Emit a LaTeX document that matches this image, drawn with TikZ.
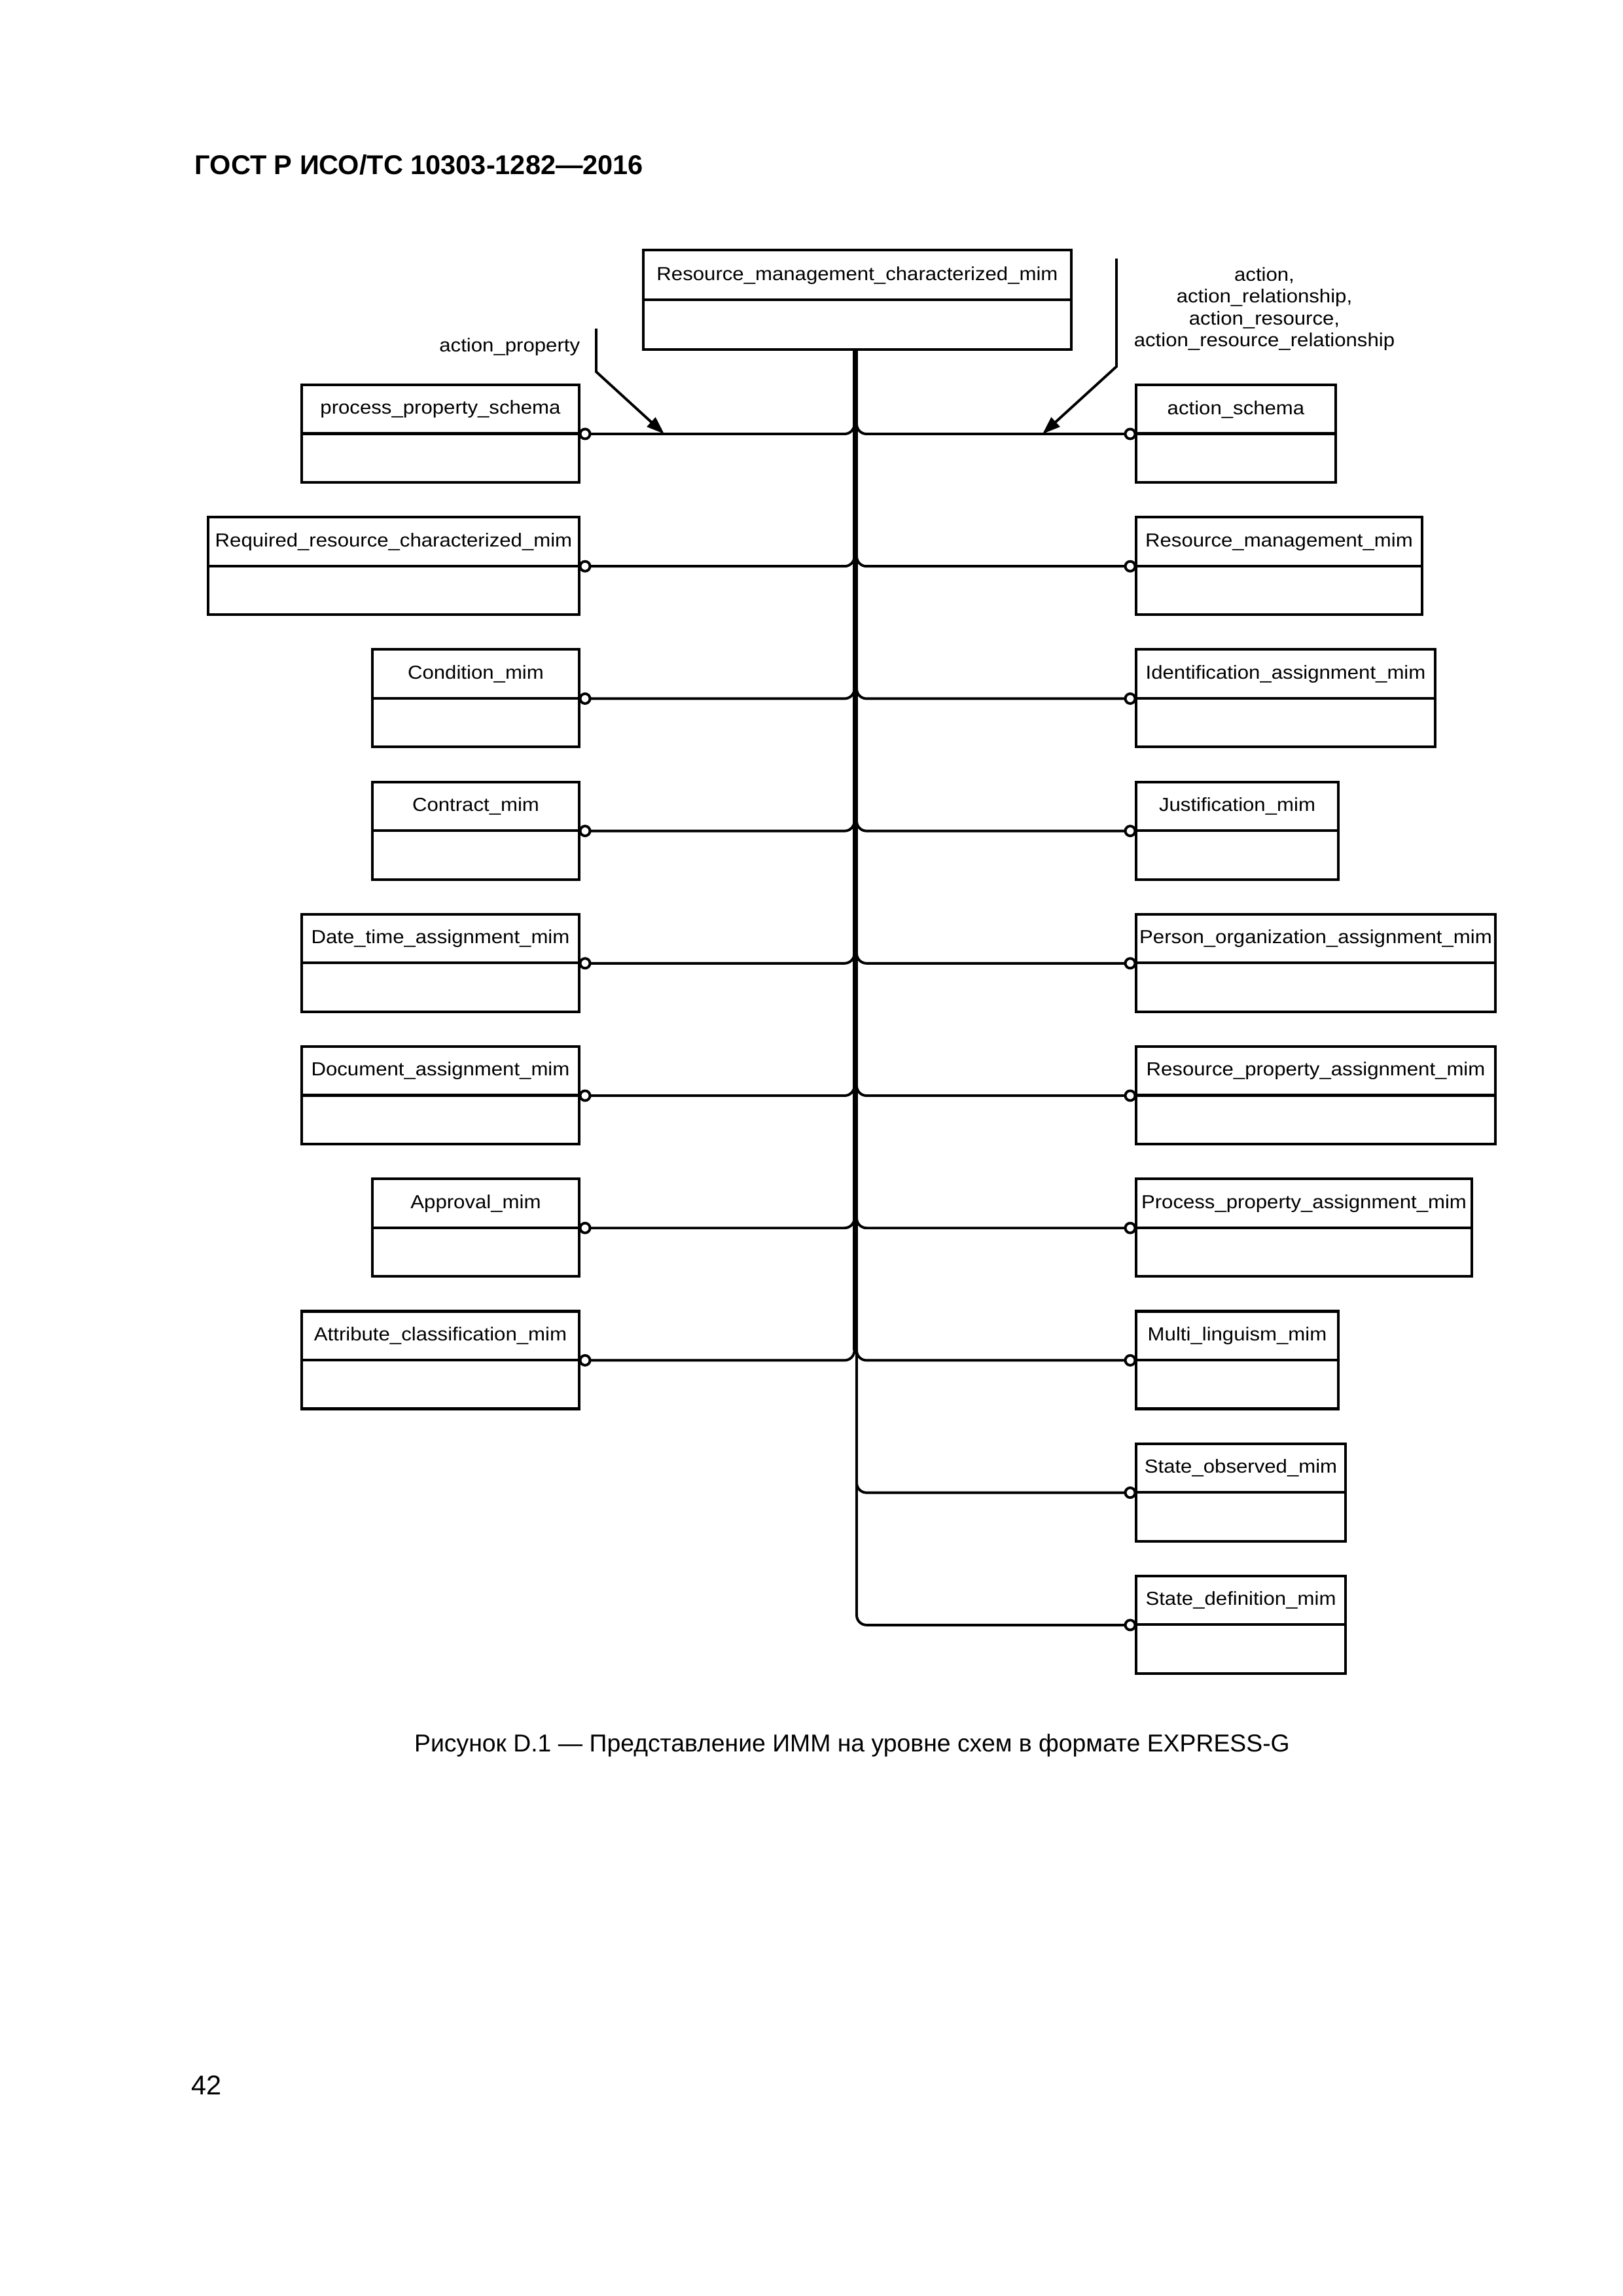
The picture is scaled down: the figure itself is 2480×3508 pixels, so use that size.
\documentclass[tikz,border=0pt]{standalone}
\usepackage{fontspec}
\setmainfont{Liberation Sans}
\newfontfamily\dgfont[FakeStretch=1.08]{Liberation Sans}
\usetikzlibrary{arrows.meta,calc}
\newcommand\pxu{0.084667mm}
\newcommand\lbx[5]{%
  \node[ebox,minimum width={(#3-#2)*0.084667mm}] (#1) at ({(#2+#3)/2},{#4-0.5}) {};
  \draw[ln] (#1.west) -- (#1.east);
  \node[lbl] (#1t) at ({(#2+#3)/2},{#4-37.5}) {#5};
  \node[circ] (c#1) at ({#3+9},#4) {};}
\newcommand\rbx[5]{%
  \node[ebox,minimum width={(#3-#2)*0.084667mm}] (#1) at ({(#2+#3)/2},{#4-0.5}) {};
  \draw[ln] (#1.west) -- (#1.east);
  \node[lbl] (#1t) at ({(#2+#3)/2},{#4-37.5}) {#5};
  \node[circ] (c#1) at ({#2-9},#4) {};}
\begin{document}
\begin{tikzpicture}[x=0.084667mm,y=-0.084667mm,
  ebox/.style={draw,line width=1pt,minimum height={149*0.084667mm},inner sep=0pt,outer sep=0pt},
  ln/.style={line width=1pt},
  lbl/.style={font=\dgfont\fontsize{6.95}{8.1}\selectfont,inner sep=0pt},
  circ/.style={draw,circle,fill=white,line width=0.95pt,minimum size={15*0.084667mm},inner sep=0pt,outer sep=0pt},
  br/.style={line width=0.95pt,rounded corners=1.27mm},
  trk/.style={line width=1.15pt},
  arr/.style={line width=0.95pt,-{Triangle[length=2.3mm,width=1.6mm]}}]
\useasboundingbox (0,0) rectangle (2480,3508);

% title, caption, page number
\node[anchor=base west,inner sep=0pt,font=\bfseries\fontsize{10}{12}\selectfont] (title) at (297,266) {ГОСТ Р ИСО/ТС 10303-1282—2016};
\node[anchor=base,inner sep=0pt,font=\fontsize{9}{11}\selectfont] (cap) at (1302,2676) {Рисунок D.1 — Представление ИММ на уровне схем в формате EXPRESS-G};
\node[anchor=base west,inner sep=0pt,font=\fontsize{10}{12}\selectfont] (pg) at (292,3200) {42};

% top box
\node[ebox,minimum width={654*0.084667mm},minimum height={152*0.084667mm}] (top) at (1310,458) {};
\draw[ln] (top.west) -- (top.east);
\node[lbl] (topt) at (1310,421) {Resource\_management\_characterized\_mim};

% left boxes
\lbx{pps}{461}{885}{663}{process\_property\_schema}
\lbx{rrc}{318}{885}{865.2}{Required\_resource\_characterized\_mim}
\lbx{cond}{569}{885}{1067.4}{Condition\_mim}
\lbx{contr}{569}{885}{1269.6}{Contract\_mim}
\lbx{dta}{461}{885}{1471.8}{Date\_time\_assignment\_mim}
\lbx{doca}{461}{885}{1674}{Document\_assignment\_mim}
\lbx{appr}{569}{885}{1876.2}{Approval\_mim}
\lbx{attr}{461}{885}{2078.4}{Attribute\_classification\_mim}

% right boxes
\rbx{acts}{1736}{2041}{663}{action\_schema}
\rbx{rmm}{1736}{2173}{865.2}{Resource\_management\_mim}
\rbx{ida}{1736}{2193}{1067.4}{Identification\_assignment\_mim}
\rbx{just}{1736}{2045}{1269.6}{Justification\_mim}
\rbx{poa}{1736}{2285}{1471.8}{Person\_organization\_assignment\_mim}
\rbx{rpa}{1736}{2285}{1674}{Resource\_property\_assignment\_mim}
\rbx{ppa}{1736}{2249}{1876.2}{Process\_property\_assignment\_mim}
\rbx{mlm}{1736}{2045}{2078.4}{Multi\_linguism\_mim}
\rbx{som}{1736}{2056}{2280.6}{State\_observed\_mim}
\rbx{sdm}{1736}{2056}{2482.8}{State\_definition\_mim}

% trunk and branches
\coordinate (trL) at (1305.5,534);
\coordinate (trR) at (1309,534);
\foreach \n in {pps,rrc,cond,contr,dta,doca,appr,attr}
  \draw[br] (trL) |- (c\n.east);
\foreach \n in {acts,rmm,ida,just,poa,rpa,ppa,mlm,som,sdm}
  \draw[br] (trR) |- (c\n.west);
\draw[trk] (trL) -- ($(trL |- cattr)+(0,-15)$);
\draw[trk] (trR) -- ($(trR |- csdm)+(0,-15)$);

% arrows and their labels
\coordinate (aps) at (911,502);
\coordinate (apb) at (911,568);
\coordinate (apt) at (1015,663);
\draw[arr] (aps) -- (apb) -- (apt);
\coordinate (ars) at (1706,395);
\coordinate (arb) at (1706,560);
\coordinate (art) at (1593,663);
\draw[arr] (ars) -- (arb) -- (art);
\node[lbl,anchor=east] (apl) at (887,530) {action\_property};
\node[lbl,align=center] (arl) at (1932,472) {action,\\action\_relationship,\\action\_resource,\\action\_resource\_relationship};
\end{tikzpicture}
\end{document}
